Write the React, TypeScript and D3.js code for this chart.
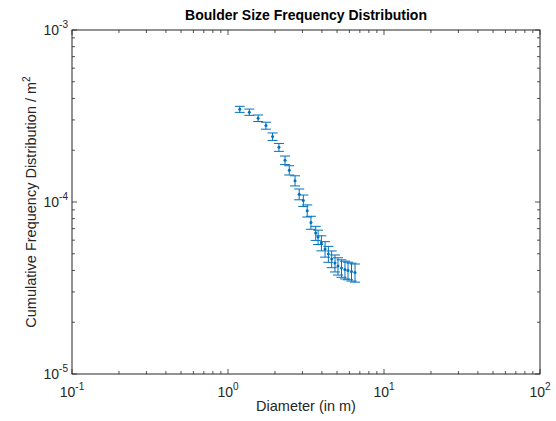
import React, { useEffect, useRef } from 'react';
import * as d3 from 'd3';

// diameter of each bin (m)
const diameters = [1.19, 1.37, 1.56, 1.75, 1.93, 2.12, 2.32, 2.47, 2.69, 2.86, 3.04, 3.22, 3.40, 3.65,
  3.78, 3.97, 4.19, 4.40, 4.62, 4.85, 5.07, 5.34, 5.62, 5.88, 6.19, 6.52];
// cumulative frequency per m^2
const cumFreq = [3.46e-4, 3.33e-4, 3.07e-4, 2.78e-4, 2.40e-4, 2.08e-4, 1.75e-4, 1.53e-4, 1.33e-4, 1.11e-4,
  1.02e-4, 8.9e-5, 7.6e-5, 6.6e-5, 6.26e-5, 5.78e-5, 5.33e-5, 4.99e-5, 4.67e-5, 4.42e-5, 4.25e-5, 4.13e-5,
  4.05e-5, 4.00e-5, 3.94e-5, 3.89e-5];
// +/- error on each value
const errors = [1.4e-5, 1.4e-5, 1.35e-5, 1.3e-5, 1.2e-5, 1.1e-5, 1.0e-5, 9.5e-6, 9.0e-6, 8.0e-6,
  7.8e-6, 7.2e-6, 6.6e-6, 6.2e-6, 6.0e-6, 5.8e-6, 5.5e-6, 5.3e-6, 5.2e-6, 5.0e-6, 4.9e-6, 4.8e-6,
  4.8e-6, 4.7e-6, 4.7e-6, 4.7e-6];

const xDecades = [-1, 0, 1, 2];
const yDecades = [-5, -4, -3];

const W = 556, H = 421;
const margin = { top: 30, right: 16, bottom: 47, left: 72 };
const AXIS = '#262626';
const BLUE = '#0072BD';
const FONT = 'Arial, "Liberation Sans", Helvetica, sans-serif';

/* LogErrorChart: draws the log-log errorbar plot into an svg through d3 */
function LogErrorChart() {
  const ref = useRef(null);
  useEffect(() => {
    const svg = d3.select(ref.current);
    svg.selectAll('*').remove();

    const x = d3.scaleLog().domain([0.1, 100]).range([margin.left, W - margin.right]);
    const y = d3.scaleLog().domain([1e-5, 1e-3]).range([H - margin.bottom, margin.top]);
    const [x0, x1] = x.range();
    const [y0, y1] = y.range();

    svg.append('rect').attr('width', W).attr('height', H).attr('fill', '#fff');

    // ticks (inside, on all four sides)
    const g = svg.append('g').attr('stroke', AXIS).attr('stroke-width', 0.8);
    const minors = (decs) => {
      const out = [];
      for (let i = 0; i < decs.length - 1; i++) for (let k = 2; k <= 9; k++) out.push(k * Math.pow(10, decs[i]));
      return out;
    };
    xDecades.forEach(d => {
      const px = x(Math.pow(10, d));
      g.append('line').attr('x1', px).attr('x2', px).attr('y1', y0).attr('y2', y0 - 5);
      g.append('line').attr('x1', px).attr('x2', px).attr('y1', y1).attr('y2', y1 + 5);
    });
    minors(xDecades).forEach(v => {
      const px = x(v);
      g.append('line').attr('x1', px).attr('x2', px).attr('y1', y0).attr('y2', y0 - 3);
      g.append('line').attr('x1', px).attr('x2', px).attr('y1', y1).attr('y2', y1 + 3);
    });
    yDecades.forEach(d => {
      const py = y(Math.pow(10, d));
      g.append('line').attr('x1', x0).attr('x2', x0 + 5).attr('y1', py).attr('y2', py);
      g.append('line').attr('x1', x1).attr('x2', x1 - 5).attr('y1', py).attr('y2', py);
    });
    minors(yDecades).forEach(v => {
      const py = y(v);
      g.append('line').attr('x1', x0).attr('x2', x0 + 3).attr('y1', py).attr('y2', py);
      g.append('line').attr('x1', x1).attr('x2', x1 - 3).attr('y1', py).attr('y2', py);
    });
    svg.append('rect').attr('x', x0).attr('y', y1).attr('width', x1 - x0).attr('height', y0 - y1)
      .attr('fill', 'none').attr('stroke', AXIS).attr('stroke-width', 1);

    // tick labels with superscript exponents
    xDecades.forEach(d => {
      const t = svg.append('text').attr('x', x(Math.pow(10, d))).attr('y', y0 + 23)
        .attr('text-anchor', 'middle').attr('font-family', FONT).attr('font-size', 14).attr('fill', AXIS);
      t.append('tspan').text('10');
      t.append('tspan').attr('dy', -7).attr('font-size', 10).text(String(d));
    });
    yDecades.forEach(d => {
      const t = svg.append('text').attr('x', x0 - 4).attr('y', y(Math.pow(10, d)) + 5)
        .attr('text-anchor', 'end').attr('font-family', FONT).attr('font-size', 14).attr('fill', AXIS);
      t.append('tspan').text('10');
      t.append('tspan').attr('dy', -7).attr('font-size', 10).text(String(d));
    });

    // axis labels and title
    svg.append('text').attr('x', (x0 + x1) / 2).attr('y', H - 10).attr('text-anchor', 'middle')
      .attr('font-family', FONT).attr('font-size', 14.5).attr('fill', AXIS).text('Diameter (in m)');
    const yl = svg.append('text').attr('transform', `translate(36,${(y0 + y1) / 2}) rotate(-90)`)
      .attr('text-anchor', 'middle').attr('font-family', FONT).attr('font-size', 14.5).attr('fill', AXIS);
    yl.append('tspan').text('Cumulative Frequency Distribution / m');
    yl.append('tspan').attr('dy', -6).attr('font-size', 10).text('2');
    svg.append('text').attr('x', (x0 + x1) / 2).attr('y', 20).attr('text-anchor', 'middle')
      .attr('font-family', FONT).attr('font-size', 14).attr('font-weight', 'bold').attr('fill', '#000')
      .text('Boulder Size Frequency Distribution');

    // error bars
    const data = diameters.map((d, i) => ({ d, v: cumFreq[i], e: errors[i] }));
    const eb = svg.append('g').attr('stroke', BLUE).attr('stroke-width', 1).attr('fill', 'none');
    const cap = 5;
    data.forEach(p => {
      const px = x(p.d), hi = y(p.v + p.e), lo = y(p.v - p.e);
      eb.append('line').attr('x1', px).attr('x2', px).attr('y1', hi).attr('y2', lo);
      eb.append('line').attr('x1', px - cap).attr('x2', px + cap).attr('y1', hi).attr('y2', hi);
      eb.append('line').attr('x1', px - cap).attr('x2', px + cap).attr('y1', lo).attr('y2', lo);
    });
    svg.append('g').selectAll('circle').data(data).enter().append('circle')
      .attr('cx', p => x(p.d)).attr('cy', p => y(p.v)).attr('r', 1.5).attr('fill', BLUE);
  }, []);

  return <svg ref={ref} width={W} height={H} style={{ display: 'block' }} />;
}

export default function App() {
  return (
    <div style={{ position: 'absolute', left: 0, top: 0 }}>
      <LogErrorChart />
    </div>
  );
}
